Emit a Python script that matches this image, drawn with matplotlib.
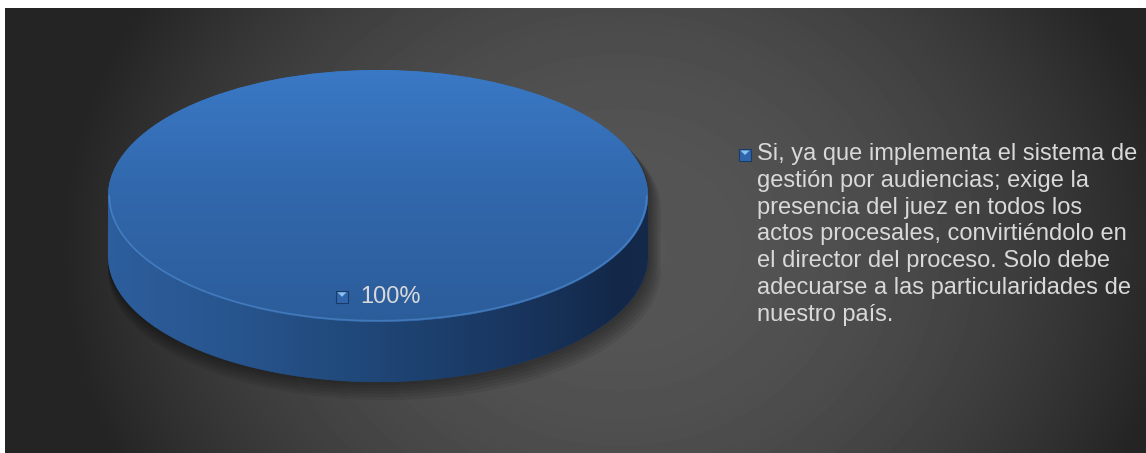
import textwrap

import numpy as np
import matplotlib
matplotlib.use("Agg")
import matplotlib.pyplot as plt
from matplotlib.patches import Polygon, Rectangle
from matplotlib.colors import LinearSegmentedColormap
from matplotlib.transforms import offset_copy

plt.rcParams["font.family"] = ["Liberation Sans", "DejaVu Sans"]

# datos
shares = [100]
answers = [
    "Si, ya que implementa el sistema de gestión por audiencias; exige la "
    "presencia del juez en todos los actos procesales, convirtiéndolo en el "
    "director del proceso. Solo debe adecuarse a las particularidades de "
    "nuestro país."
]

W, H = 1146, 453
TEXT_COLOR = "#d9d9d9"
TOP_COLOR = "#3470b8"
FONT_SIZE = 17

# geometría del disco en píxeles (centro, semiejes, grosor)
CX, CY, RX, RY, DEPTH_PX = 378, 196, 270, 126, 60
depth = DEPTH_PX / RY

fig = plt.figure(figsize=(W / 100, H / 100), dpi=100, facecolor="white")

# fondo con degradado radial gris
bg = fig.add_axes([5 / W, 0, 1 - 5 / W, 1 - 8 / H], zorder=0)
yy, xx = np.mgrid[8:H, 5:W]
d2 = ((xx - 620) / 560.0) ** 2 + ((yy - 250) / 480.0) ** 2
val = 0x24 + (0x56 - 0x24) * (1 - np.clip(d2, 0, 1))
bg.imshow(val, cmap="gray", vmin=0, vmax=255, aspect="auto",
          extent=[5, W, H, 8], interpolation="bilinear")
bg.set_axis_off()

# pastel 3D
ax = fig.add_axes([0, 0, 1, 1], zorder=1)
ax.patch.set_visible(False)

t_low = np.linspace(np.pi, 2 * np.pi, 200)
t_up = np.linspace(0, np.pi, 200)

# sombra suave bajo el disco
sil_x = np.concatenate([np.cos(t_up), np.cos(t_low)])
sil_y = np.concatenate([np.sin(t_up), np.sin(t_low) - depth])
for k in range(1, 7):
    s = 1 + 0.004 * k
    ax.add_patch(Polygon(np.column_stack([sil_x * s + 0.004 * k,
                                          sil_y * s - 0.018 * k]),
                         closed=True, facecolor="black", edgecolor="none",
                         alpha=0.07, zorder=1))

# lateral del cilindro
side_xy = np.vstack([np.column_stack([np.cos(t_low), np.sin(t_low)]),
                     np.column_stack([np.cos(t_low[::-1]),
                                      np.sin(t_low[::-1]) - depth])])
side = Polygon(side_xy, closed=True, facecolor="#1f4577", edgecolor="none",
               zorder=2)
ax.add_patch(side)
side_cmap = LinearSegmentedColormap.from_list(
    "side", [(0, "#2d5e9d"), (0.25, "#27548c"), (0.5, "#1f4676"),
             (0.75, "#193660"), (0.95, "#132848"), (1, "#152a4b")])
side_img = ax.imshow(np.linspace(0, 1, 256)[None, :], cmap=side_cmap,
                     extent=[-1, 1, -1 - depth, 0], aspect="auto", zorder=3,
                     interpolation="bilinear")
side_img.set_clip_path(side)

# cara superior
wedges, _, autotexts = ax.pie(
    shares, startangle=90, radius=1, center=(0, 0), colors=[TOP_COLOR],
    autopct="%1.0f%%", pctdistance=0.8,
    wedgeprops=dict(linewidth=0, zorder=4),
    textprops=dict(color=TEXT_COLOR, fontsize=FONT_SIZE))
top = wedges[0]
top.set_zorder(4)
top_cmap = LinearSegmentedColormap.from_list(
    "top", ["#2c5d9b", "#3167ab", "#3a79c6"])
top_img = ax.imshow(np.linspace(0, 1, 256)[:, None], cmap=top_cmap,
                    origin="lower", extent=[-1, 1, -1, 1], aspect="auto",
                    zorder=5, interpolation="bilinear")
top_img.set_clip_path(top)

# brillo en el borde frontal
ax.plot(np.cos(t_low) * 0.995, np.sin(t_low) * 0.99, color="#5b9be0",
        lw=1.2, alpha=0.45, zorder=6, solid_capstyle="round")

ax.set_aspect("auto")
ax.set_xlim((0 - CX) / RX, (W - CX) / RX)
ax.set_ylim((CY - H) / RY, CY / RY)
ax.set_axis_off()

pct = autotexts[0]
pct.set_zorder(8)
pct.set_transform(offset_copy(ax.transData, fig, x=12, y=0, units="dots"))

# capa superior en píxeles para marcadores y leyenda
ov = fig.add_axes([0, 0, 1, 1], zorder=3)
ov.patch.set_visible(False)
ov.set_xlim(0, W)
ov.set_ylim(H, 0)
ov.set_axis_off()


def marker(x, y, size=12):
    ov.add_patch(Rectangle((x, y), size, size, facecolor="#2f66ab",
                           edgecolor="#1b3a66", lw=0.8, zorder=9))
    ov.add_patch(Polygon([(x + 1.5, y + 1.5), (x + size - 1.5, y + 1.5),
                          (x + size / 2, y + size / 2)], closed=True,
                         facecolor="#8cc0f0", edgecolor="none", zorder=10))


# marcador de la etiqueta del porcentaje
px, py = ax.transData.transform(pct.get_position())
marker(px - 42, H - py - 6)

# leyenda
lx, ly = 739, 149
marker(lx, ly)
ov.text(lx + 18, 143, "\n".join(textwrap.wrap(answers[0], 35)),
        ha="left", va="top", color=TEXT_COLOR, fontsize=FONT_SIZE,
        linespacing=1.28, zorder=9)

fig.savefig("out.png", dpi=100, facecolor="white")
